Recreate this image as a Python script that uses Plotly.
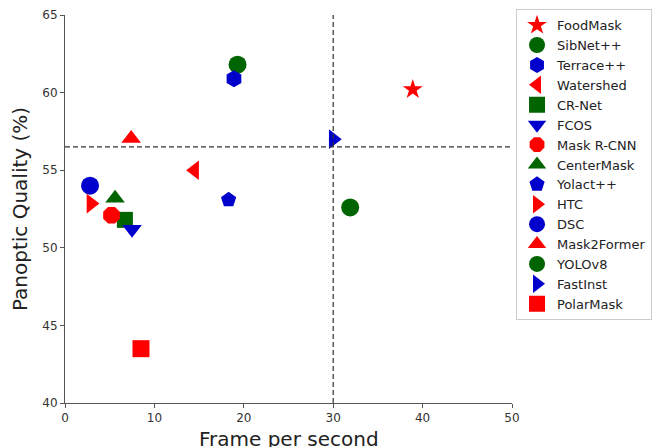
import plotly.graph_objects as go

methods = ["FoodMask", "SibNet++", "Terrace++", "Watershed", "CR-Net", "FCOS",
           "Mask R-CNN", "CenterMask", "Yolact++", "HTC", "DSC", "Mask2Former",
           "YOLOv8", "FastInst", "PolarMask"]
fps = [38.9, 19.3, 18.9, 14.5, 6.7, 7.5, 5.2, 5.6, 18.3, 2.9, 2.8, 7.4, 31.9, 30.0, 8.5]
pq = [60.2, 61.8, 60.9, 55.0, 51.8, 51.2, 52.1, 53.2, 53.1, 52.85, 54.0, 57.05, 52.6, 57.0, 43.5]
symbols = ["star", "circle", "hexagon", "triangle-left", "square", "triangle-down",
           "octagon", "triangle-up", "pentagon", "triangle-right", "circle",
           "triangle-up", "circle", "triangle-right", "square"]
colors = ["red", "darkgreen", "mediumblue", "red", "darkgreen", "mediumblue",
          "red", "darkgreen", "mediumblue", "red", "mediumblue", "red",
          "darkgreen", "mediumblue", "red"]
sizes = [15, 18, 17, 17, 16, 17, 18, 17, 16, 17, 18, 17, 18, 17, 17]

x_ticks = [0, 10, 20, 30, 40, 50]
y_ticks = [40, 45, 50, 55, 60, 65]
x_title = "Frame per second"
y_title = "Panoptic Quality (%)"
fps_threshold = 30
pq_threshold = 56.5

fig = go.Figure()
for m, x, y, s, c, sz in zip(methods, fps, pq, symbols, colors, sizes):
    fig.add_trace(go.Scatter(x=[x], y=[y], mode="markers", name=m,
                             marker=dict(symbol=s, color=c, size=sz, line=dict(width=0))))

fig.add_shape(type="line", xref="x", yref="paper", x0=fps_threshold, x1=fps_threshold,
              y0=0, y1=1, line=dict(color="#333", width=1.2, dash="5px,3px"))
fig.add_shape(type="line", xref="paper", yref="y", x0=0, x1=1, y0=pq_threshold,
              y1=pq_threshold, line=dict(color="#333", width=1.2, dash="5px,3px"))

fig.add_annotation(text=x_title, xref="paper", yref="paper", x=0.5, y=0,
                   xanchor="center", yanchor="top", yshift=-22, showarrow=False,
                   font=dict(size=20, color="#222", family="DejaVu Sans"))

axis_common = dict(showgrid=False, zeroline=False, showline=True, linecolor="#555",
                   linewidth=1, ticks="outside", ticklen=4, tickcolor="#555",
                   tickfont=dict(size=12, color="#333", family="DejaVu Sans"))
fig.update_xaxes(range=[0, 50], tickvals=x_ticks, **axis_common)
fig.update_yaxes(range=[40, 65], tickvals=y_ticks,
                 title=dict(text=y_title, font=dict(size=20, color="#222",
                            family="DejaVu Sans"), standoff=9), **axis_common)

fig.update_layout(
    width=660, height=447,
    margin=dict(l=65, r=148, t=15, b=44, autoexpand=False),
    plot_bgcolor="white", paper_bgcolor="white",
    font=dict(family="DejaVu Sans"),
    legend=dict(x=1.009, y=1.015, xanchor="left", yanchor="top",
                bordercolor="#cccccc", borderwidth=1, bgcolor="white",
                font=dict(size=13, color="#222", family="DejaVu Sans"),
                itemsizing="trace", tracegroupgap=0, maxheight=440),
)
fig.write_html("out.html", config={"displayModeBar": False},
               post_script="document.body.style.margin='0';")
